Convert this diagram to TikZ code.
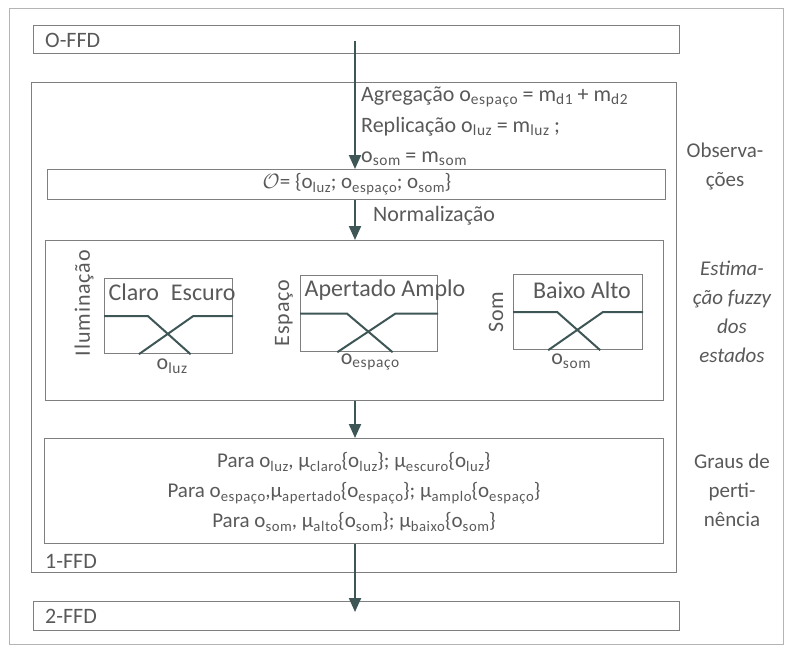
\documentclass[tikz,border=0pt]{standalone}
\usepackage{fontspec}
\setmainfont{Carlito}
\newfontfamily\rotfont[LetterSpace=4]{Carlito}
\usetikzlibrary{arrows.meta,calc}
\definecolor{txt}{HTML}{595959}
\definecolor{ln}{HTML}{3E5656}
\definecolor{bx}{HTML}{7F7F7F}
\definecolor{frm}{HTML}{B4B4B4}
\makeatletter
\newcommand{\lo}[1]{\raisebox{-0.16em}{\fontsize{\the\dimexpr 0.7\dimexpr\f@size pt\relax\relax}{1pt}\selectfont\addfontfeature{LetterSpace=4}#1}}
\makeatother
\newcommand{\mfcurves}[1]{%
  \draw[mfline] (#1.west) -- ($(#1.west)!0.34!(#1.east)$) -- ($(#1.south west)!0.67!(#1.south east)$);
  \draw[mfline] ($(#1.south west)!0.27!(#1.south east)$) -- ($(#1.west)!0.69!(#1.east)$) -- (#1.east);}
\begin{document}
\begin{tikzpicture}[x=1pt,y=-1pt,
  every node/.style={text=txt, font=\fontsize{22}{26}\selectfont, inner sep=0pt},
  box/.style={draw=bx, line width=1.2pt, rectangle, anchor=north west},
  mfbox/.style={draw=bx, line width=1.2pt, rectangle, anchor=north west},
  conn/.style={draw=ln, line width=2pt, -{Triangle[width=12pt,length=14pt]}},
  mfline/.style={draw=ln, line width=2pt},
  rot/.style={rotate=90, font=\rotfont\fontsize{22}{26}\selectfont},
  mflab/.style={font=\fontsize{24}{28}\selectfont},
  side/.style={align=center, font=\fontsize{21}{29}\selectfont}]
\useasboundingbox (0,0) rectangle (786,648);
\draw[frm, line width=1pt] (9,8) rectangle (783,644);

% main boxes
\node[box, minimum width=646pt, minimum height=28pt] (offd) at (33,25) {};
\node[box, minimum width=645pt, minimum height=490pt] (ffd1) at (31,82) {};
\node[box, minimum width=618pt, minimum height=30pt] (obs) at (47,169) {};
\node[box, minimum width=618pt, minimum height=160pt] (mid) at (45,240) {};
\node[box, minimum width=619pt, minimum height=105pt] (bot) at (44,438) {};
\node[box, minimum width=646pt, minimum height=29pt] (ffd2) at (33,601) {};

\node[anchor=west] (l0) at (45,40) {O-FFD};
\node[anchor=west] (l1) at (45,561) {1-FFD};
\node[anchor=west] (l2) at (45,616) {2-FFD};

% connectors
\coordinate (a0) at (355,41);
\coordinate (a1) at (355,612);
\draw[conn] (a0) -- (a0 |- obs.north);
\draw[conn] (obs.south -| a0) -- (a0 |- mid.north);
\draw[conn] (mid.south -| a0) -- (a0 |- bot.north);
\draw[conn] (bot.south -| a0) -- (a1);

% aggregation text
\node[anchor=base west] (t1) at (361,101) {Agregação o\lo{espaço} = m\lo{d1} + m\lo{d2}};
\node[anchor=base west] (t2) at (361,132) {Replicação o\lo{luz} = m\lo{luz} ;};
\node[anchor=base west] (t3) at (361,162) {o\lo{som} = m\lo{som}};

\node[font=\fontsize{21}{25}\selectfont] (ot) at (357,184) {$\mathcal{O}$= \{o\lo{luz}; o\lo{espaço}; o\lo{som}\}};
\node[anchor=base west] (norm) at (373,221) {Normalização};

% membership boxes
\node[mfbox, minimum width=128pt, minimum height=75pt] (b1) at (104,278) {};
\node[mfbox, minimum width=137pt, minimum height=76pt] (b2) at (300,275) {};
\node[mfbox, minimum width=129pt, minimum height=75pt] (b3) at (513,274) {};
\mfcurves{b1}
\mfcurves{b2}
\mfcurves{b3}
\node[mflab] (c1) at (172,292) {Claro\enspace Escuro};
\node[mflab] (c2) at (385,290) {Apertado Amplo};
\node[mflab] (c3) at (582,290) {Baixo Alto};
\node (o1) at (172,366) {o\lo{luz}};
\node (o2) at (370,362) {o\lo{espaço}};
\node (o3) at (571,361) {o\lo{som}};
\node[rot] (r1) at (84,303) {Iluminação};
\node[rot] (r2) at (284,313) {Espaço};
\node[rot] (r3) at (496,312) {Som};

% degrees
\node[align=center, font=\fontsize{21}{30}\selectfont] (deg) at (354,492) {Para o\lo{luz}, μ\lo{claro}\{o\lo{luz}\}; μ\lo{escuro}\{o\lo{luz}\}\\
Para o\lo{espaço},μ\lo{apertado}\{o\lo{espaço}\}; μ\lo{amplo}\{o\lo{espaço}\}\\
Para o\lo{som}, μ\lo{alto}\{o\lo{som}\}; μ\lo{baixo}\{o\lo{som}\}};

% side labels
\node[side] (s1) at (725,166) {Observa-\\ções};
\node[side, font=\itshape\fontsize{21}{29}\selectfont] (s2) at (732,312) {Estima-\\ção fuzzy\\dos\\estados};
\node[side] (s3) at (732,490) {Graus de\\perti-\\nência};
\end{tikzpicture}
\end{document}
